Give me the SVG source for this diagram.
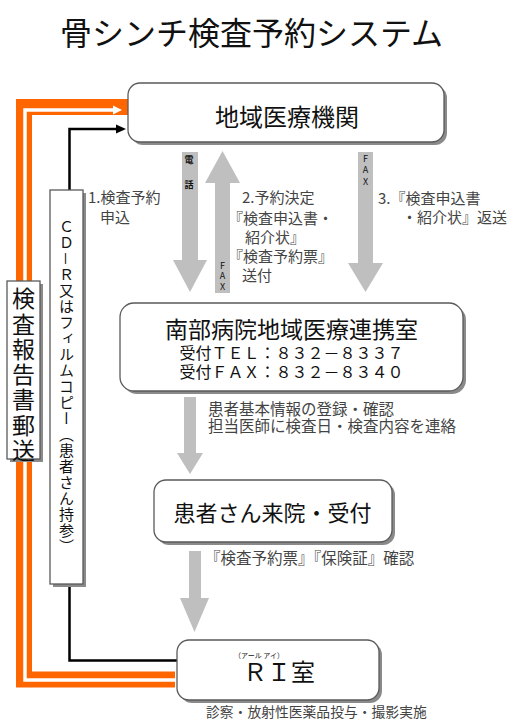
<svg xmlns="http://www.w3.org/2000/svg" width="517" height="722" viewBox="0 0 517 722">
<style>
text{font-family:"Noto Sans CJK JP","Noto Sans",sans-serif;}
.box{fill:#fff;stroke:#5a5a5a;stroke-width:1.3;}
.shadow{fill:#8a8a8a;}
.arrow{fill:#bfbfbf;}
.title{font-size:32px;fill:#111;}
.node{fill:#111;}
.lbl{font-size:15px;fill:#444;}
.tiny{font-size:9px;fill:#111;}
.vert{writing-mode:vertical-rl;}
.up{writing-mode:vertical-rl;text-orientation:upright;}
</style>
<rect width="517" height="722" fill="#fff"/>
<text class="title" x="251.5" y="45" text-anchor="middle">骨シンチ検査予約システム</text>

<g id="connectors">
  <path d="M175,679.5 H24 V107 H129" fill="none" stroke="#ff6600" stroke-width="16"/>
  <path d="M175,680 H25 V110 H116" fill="none" stroke="#fff" stroke-width="3.5"/>
  <polygon points="113,105.5 122,110 113,114.5" fill="#fff"/>
  <path d="M69.5,191 V129 H118" fill="none" stroke="#000" stroke-width="2.5"/>
  <polygon points="116,124.5 126,129 116,133.5" fill="#000"/>
  <path d="M69.5,586 V660.5 H178" fill="none" stroke="#000" stroke-width="2.5"/>
  <polygon class="arrow" points="182,152 198,152 198,260 207,260 190,292 173,260 182,260"/>
  <polygon class="arrow" points="222.5,151 240,183 230,183 230,293 215,293 215,183 205,183"/>
  <polygon class="arrow" points="358,152 373,152 373,263 383,263 365.5,292 348,263 358,263"/>
  <polygon class="arrow" points="184,397 196,397 196,453 203,453 190,474 177,453 184,453"/>
  <polygon class="arrow" points="189,551 201,551 201,598 209,598 194.5,632 180,598 189,598"/>
  <text class="tiny up" x="189" y="155" font-weight="bold" letter-spacing="16">電話</text>
  <text class="tiny up" x="222.5" y="261" font-size="8.5" letter-spacing="1.5">FAX</text>
  <text class="tiny up" x="365.5" y="154" font-size="8.5" letter-spacing="2.5">FAX</text>
  <text class="lbl" x="88" y="203">1.検査予約<tspan x="100" y="223">申込</tspan></text>
  <text class="lbl" x="242" y="203">2.予約決定<tspan x="228" y="224">『検査申込書・</tspan><tspan x="245" y="243">紹介状』</tspan><tspan x="228" y="262">『検査予約票』</tspan><tspan x="242" y="281">送付</tspan></text>
  <text class="lbl" x="378" y="204">3.『検査申込書<tspan x="402" y="223">・紹介状』返送</tspan></text>
  <text class="lbl" x="208" y="415" style="font-size:15.5px">患者基本情報の登録・確認<tspan x="208" y="432">担当医師に検査日・検査内容を連絡</tspan></text>
  <text class="lbl" x="205" y="564" style="font-size:15.5px">『検査予約票』『保険証』確認</text>
  <text class="lbl" x="206" y="717" style="font-size:13.8px">診察・放射性医薬品投与・撮影実施</text>
</g>

<g id="node-chiiki">
  <rect class="shadow" x="131" y="86" width="316" height="59" rx="12"/>
  <rect class="box" x="128" y="83" width="316" height="59" rx="12"/>
  <text class="node" x="287" y="126" text-anchor="middle" font-size="24">地域医療機関</text>
</g>

<g id="node-renkei">
  <rect class="shadow" x="123" y="306" width="343" height="88" rx="14"/>
  <rect class="box" x="120" y="303" width="343" height="88" rx="14"/>
  <text class="node" x="291.5" y="338" text-anchor="middle" font-size="23">南部病院地域医療連携室</text>
  <text class="node" x="291.5" y="359" text-anchor="middle" font-size="16">受付ＴＥＬ：８３２－８３３７<tspan x="291.5" y="378">受付ＦＡＸ：８３２－８３４０</tspan></text>
</g>

<g id="node-raiin">
  <rect class="shadow" x="157" y="483" width="238" height="62" rx="12"/>
  <rect class="box" x="154" y="480" width="238" height="62" rx="12"/>
  <text class="node" x="272.5" y="521" text-anchor="middle" font-size="22">患者さん来院・受付</text>
</g>

<g id="node-ri">
  <rect class="shadow" x="180" y="643" width="202" height="60" rx="12"/>
  <rect class="box" x="177" y="640" width="202" height="60" rx="12"/>
  <text class="node" x="279" y="681" text-anchor="middle" font-size="24"><tspan x="259" y="658" font-size="7">（アール アイ）</tspan><tspan x="279" y="681">ＲＩ室</tspan></text>
</g>

<g id="node-cdr">
  <rect class="shadow" x="53" y="193" width="33" height="394"/>
  <rect class="box" x="50" y="190" width="33" height="394"/>
  <text class="node vert" x="66.5" y="219" font-size="15" letter-spacing="1">ＣＤ－Ｒ又はフィルムコピー（患者さん持参）</text>
</g>

<g id="node-houkoku">
  <rect class="shadow" x="10" y="284" width="33" height="178"/>
  <rect class="box" x="7" y="281" width="33" height="178"/>
  <text class="node vert" x="23.5" y="287" font-size="23" letter-spacing="2.3">検査報告書郵送</text>
</g>
</svg>
